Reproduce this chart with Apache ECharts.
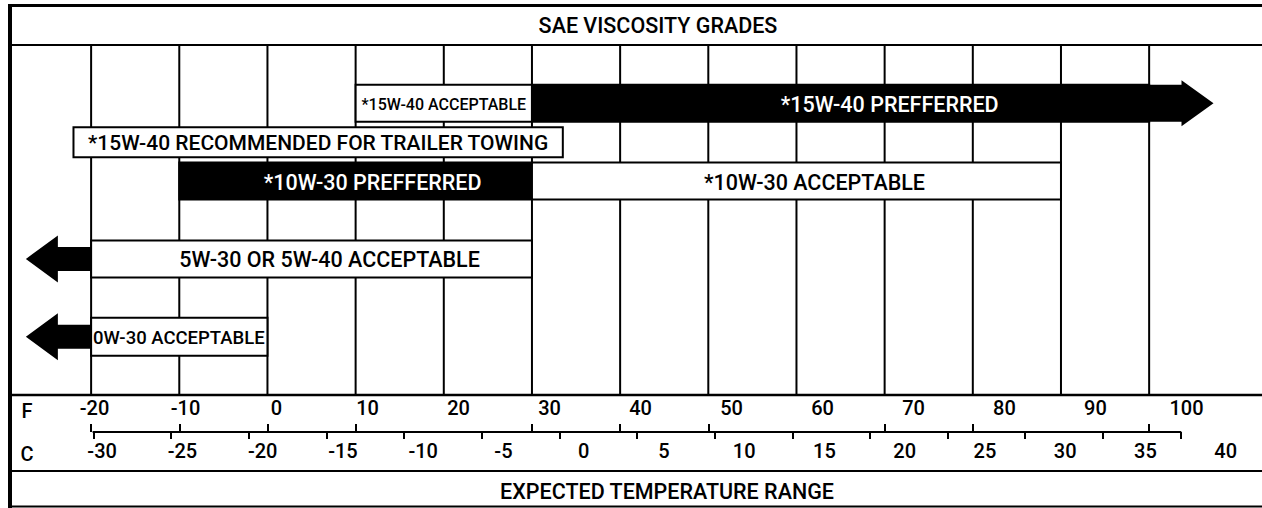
<!DOCTYPE html>
<html>
<head>
<meta charset="utf-8">
<title>SAE Viscosity Grades</title>
<script src="https://cdn.jsdelivr.net/npm/echarts@6.0.0/dist/echarts.min.js"></script>
<style>
  html, body { margin: 0; padding: 0; background: #fff; }
  #chart { width: 1262px; height: 508px; }
</style>
</head>
<body>
<div id="chart"></div>
<script>
// row slots, top to bottom (the gap slots only keep the spacing)
const rowSlots = ['top', '15W-40', 'towing', '10W-30', 'gap1', '5W', 'gap2', '0W', 'bottom'];

// bars, in deg F
const barRow = ['15W-40', '15W-40', 'towing', '10W-30', '10W-30', '5W', '0W'];
const barFrom = [10, 30, -22, -10, 30, -20, -20];
const barTo = [30, 100, 33.5, 30, 90, 30, 0];
const barKind = ['small', 'pref', 'note', 'pref', 'acc', 'acc', 'left'];
const barText = [
  '*15W-40 ACCEPTABLE',
  '*15W-40 PREFFERRED',
  '*15W-40 RECOMMENDED FOR TRAILER TOWING',
  '*10W-30 PREFFERRED',
  '*10W-30 ACCEPTABLE',
  '5W-30 OR 5W-40 ACCEPTABLE',
  '0W-30 ACCEPTABLE'
];

// arrows running off the scale
const arrowRow = ['15W-40', '5W', '0W'];
const arrowFrom = [100, -20, -20];
const arrowTip = [107.3, -27.4, -27.4];
const arrowKind = ['wide', 'thin', 'thin'];

// scales
const fGrid = [-20, -10, 0, 10, 20, 30, 40, 50, 60, 70, 80, 90, 100];
const fLabels = [-20, -10, 0, 10, 20, 30, 40, 50, 60, 70, 80, 90, 100];
const fTicks = [-20, -10, 0, 10, 30, 40, 50, 70, 80, 100];
const cLabels = [-30, -25, -20, -15, -10, -5, 0, 5, 10, 15, 20, 25, 30, 35, 40];

const FONT = 'Roboto, "Noto Sans", sans-serif';
const WEIGHT = 500;

const barStyles = {
  small: { height: 37, fill: '#fff', color: '#000', size: 16, dx: 0 },
  pref: { height: 37, fill: '#000', color: '#fff', size: 21.5, dx: 17 },
  acc: { height: 37, fill: '#fff', color: '#000', size: 21.5, dx: 18 },
  note: { height: 30, fill: '#fff', color: '#000', size: 21, dx: 0 },
  left: { height: 38, fill: '#fff', color: '#000', size: 18.5, dx: 0, align: 'left' }
};
const arrowStyles = {
  wide: { shaft: 37, head: 46, length: 32 },
  thin: { shaft: 24, head: 47, length: 32 }
};

function renderGridLine(params, api) {
  const x = api.coord([api.value(0), api.value(1)])[0];
  const cs = params.coordSys;
  return {
    type: 'line',
    shape: { x1: x, y1: cs.y, x2: x, y2: cs.y + cs.height },
    style: { stroke: '#000', lineWidth: 2 }
  };
}

function renderBar(params, api) {
  const i = params.dataIndex;
  const s = barStyles[barKind[i]];
  const row = api.value(2);
  const a = api.coord([api.value(0), row]);
  const b = api.coord([api.value(1), row]);
  const x0 = a[0], x1 = b[0], cy = a[1];
  // text of a bar that runs on into an arrow is centred over both
  let xEnd = x1;
  arrowRow.forEach((r, j) => {
    if (r === barRow[i] && arrowFrom[j] === barTo[i]) xEnd = api.coord([arrowTip[j], row])[0];
  });
  const tx = s.align === 'left' ? x0 + 2 : (x0 + xEnd) / 2 + s.dx;
  return {
    type: 'group',
    children: [
      {
        type: 'rect',
        shape: { x: x0, y: cy - s.height / 2, width: x1 - x0, height: s.height },
        style: { fill: s.fill, stroke: '#000', lineWidth: 2 }
      },
      {
        type: 'text',
        style: {
          text: barText[i], x: tx, y: cy + 1,
          fill: s.color, fontSize: s.size, fontFamily: FONT, fontWeight: WEIGHT,
          align: s.align || 'center', verticalAlign: 'middle'
        }
      }
    ]
  };
}

function renderArrow(params, api) {
  const s = arrowStyles[arrowKind[params.dataIndex]];
  const row = api.value(2);
  const p = api.coord([api.value(0), row]);
  const xs = p[0], cy = p[1];
  const xt = api.coord([api.value(1), row])[0];
  const dir = xt > xs ? 1 : -1;
  const xb = xt - dir * s.length;
  const sh = s.shaft / 2, hh = s.head / 2;
  return {
    type: 'polygon',
    shape: { points: [[xs, cy - sh], [xb, cy - sh], [xb, cy - hh], [xt, cy], [xb, cy + hh], [xb, cy + sh], [xs, cy + sh]] },
    style: { fill: '#000' }
  };
}

const chart = echarts.init(document.getElementById('chart'), null, { renderer: 'svg' });

const hidden = { show: false };
const labelStyle = { color: '#000', fontSize: 20, fontWeight: WEIGHT, fontFamily: FONT };
const headStyle = { fill: '#000', fontSize: 21.5, fontWeight: WEIGHT, fontFamily: FONT, align: 'center', verticalAlign: 'middle' };

chart.setOption({
  animation: false,
  backgroundColor: '#fff',
  grid: [
    { left: 10, right: 0, top: 45, bottom: 113 },          // bars
    { left: 10, right: 0, top: 397, height: 1 },           // F labels
    { left: 93.4, right: 81.5, top: 431, height: 1 },      // C line
    { left: 10, right: 0, top: 431, height: 1 },           // F marks on the C line
    { left: 10, right: 0, top: 431, height: 1 }            // C labels
  ],
  xAxis: [
    { gridIndex: 0, type: 'value', min: -29.2, max: 112.8, show: false },
    {
      gridIndex: 1, type: 'value', min: -29.29, max: 108.3,
      axisLine: hidden, axisTick: hidden, splitLine: hidden,
      axisLabel: Object.assign({ customValues: fLabels, margin: 0 }, labelStyle)
    },
    {
      gridIndex: 2, type: 'value', min: -30, max: 40, interval: 5,
      axisLine: { onZero: false, lineStyle: { color: '#000', width: 2 } },
      axisTick: { length: 7, lineStyle: { color: '#000', width: 2 } },
      axisLabel: hidden, splitLine: hidden
    },
    {
      gridIndex: 3, type: 'value', min: -29.2, max: 112.8,
      axisLine: hidden, splitLine: hidden, axisLabel: hidden,
      axisTick: { customValues: fTicks, inside: true, length: 8, lineStyle: { color: '#000', width: 2 } }
    },
    {
      gridIndex: 4, type: 'value', min: -35.74, max: 42.26,
      axisLine: hidden, axisTick: hidden, splitLine: hidden,
      axisLabel: Object.assign({ customValues: cLabels, margin: 9 }, labelStyle)
    }
  ],
  yAxis: [
    { gridIndex: 0, type: 'category', data: rowSlots, inverse: true, show: false },
    { gridIndex: 1, type: 'value', min: 0, max: 1, show: false },
    { gridIndex: 2, type: 'value', min: 0, max: 1, show: false },
    { gridIndex: 3, type: 'value', min: 0, max: 1, show: false },
    { gridIndex: 4, type: 'value', min: 0, max: 1, show: false }
  ],
  graphic: [
    // frame
    { type: 'line', shape: { x1: 10, y1: 4, x2: 10, y2: 508 }, style: { stroke: '#000', lineWidth: 4 } },
    { type: 'line', shape: { x1: 8, y1: 5.5, x2: 1262, y2: 5.5 }, style: { stroke: '#000', lineWidth: 3 } },
    { type: 'line', shape: { x1: 8, y1: 45, x2: 1262, y2: 45 }, style: { stroke: '#000', lineWidth: 2 } },
    { type: 'line', shape: { x1: 8, y1: 395, x2: 1262, y2: 395 }, style: { stroke: '#000', lineWidth: 2.5 } },
    { type: 'line', shape: { x1: 8, y1: 471, x2: 1262, y2: 471 }, style: { stroke: '#000', lineWidth: 2 } },
    { type: 'line', shape: { x1: 8, y1: 506.5, x2: 1262, y2: 506.5 }, style: { stroke: '#000', lineWidth: 2 } },
    // headings
    { type: 'text', x: 658, y: 25, style: Object.assign({ text: 'SAE VISCOSITY GRADES' }, headStyle) },
    { type: 'text', x: 667, y: 491, style: Object.assign({ text: 'EXPECTED TEMPERATURE RANGE' }, headStyle) },
    { type: 'text', x: 27, y: 411, style: Object.assign({ text: 'F' }, headStyle, { fontSize: 20 }) },
    { type: 'text', x: 27, y: 454, style: Object.assign({ text: 'C' }, headStyle, { fontSize: 20 }) }
  ],
  series: [
    {
      type: 'custom', xAxisIndex: 0, yAxisIndex: 0, z: 1,
      encode: { x: 0, y: 1 },
      data: fGrid.map(f => [f, rowSlots[0]]),
      renderItem: renderGridLine
    },
    {
      type: 'custom', xAxisIndex: 0, yAxisIndex: 0, z: 2,
      encode: { x: [0, 1], y: 2 },
      data: barFrom.map((f, i) => [f, barTo[i], barRow[i]]),
      renderItem: renderBar
    },
    {
      type: 'custom', xAxisIndex: 0, yAxisIndex: 0, z: 3,
      encode: { x: [0, 1], y: 2 },
      data: arrowFrom.map((f, i) => [f, arrowTip[i], arrowRow[i]]),
      renderItem: renderArrow
    }
  ]
});
</script>
</body>
</html>
